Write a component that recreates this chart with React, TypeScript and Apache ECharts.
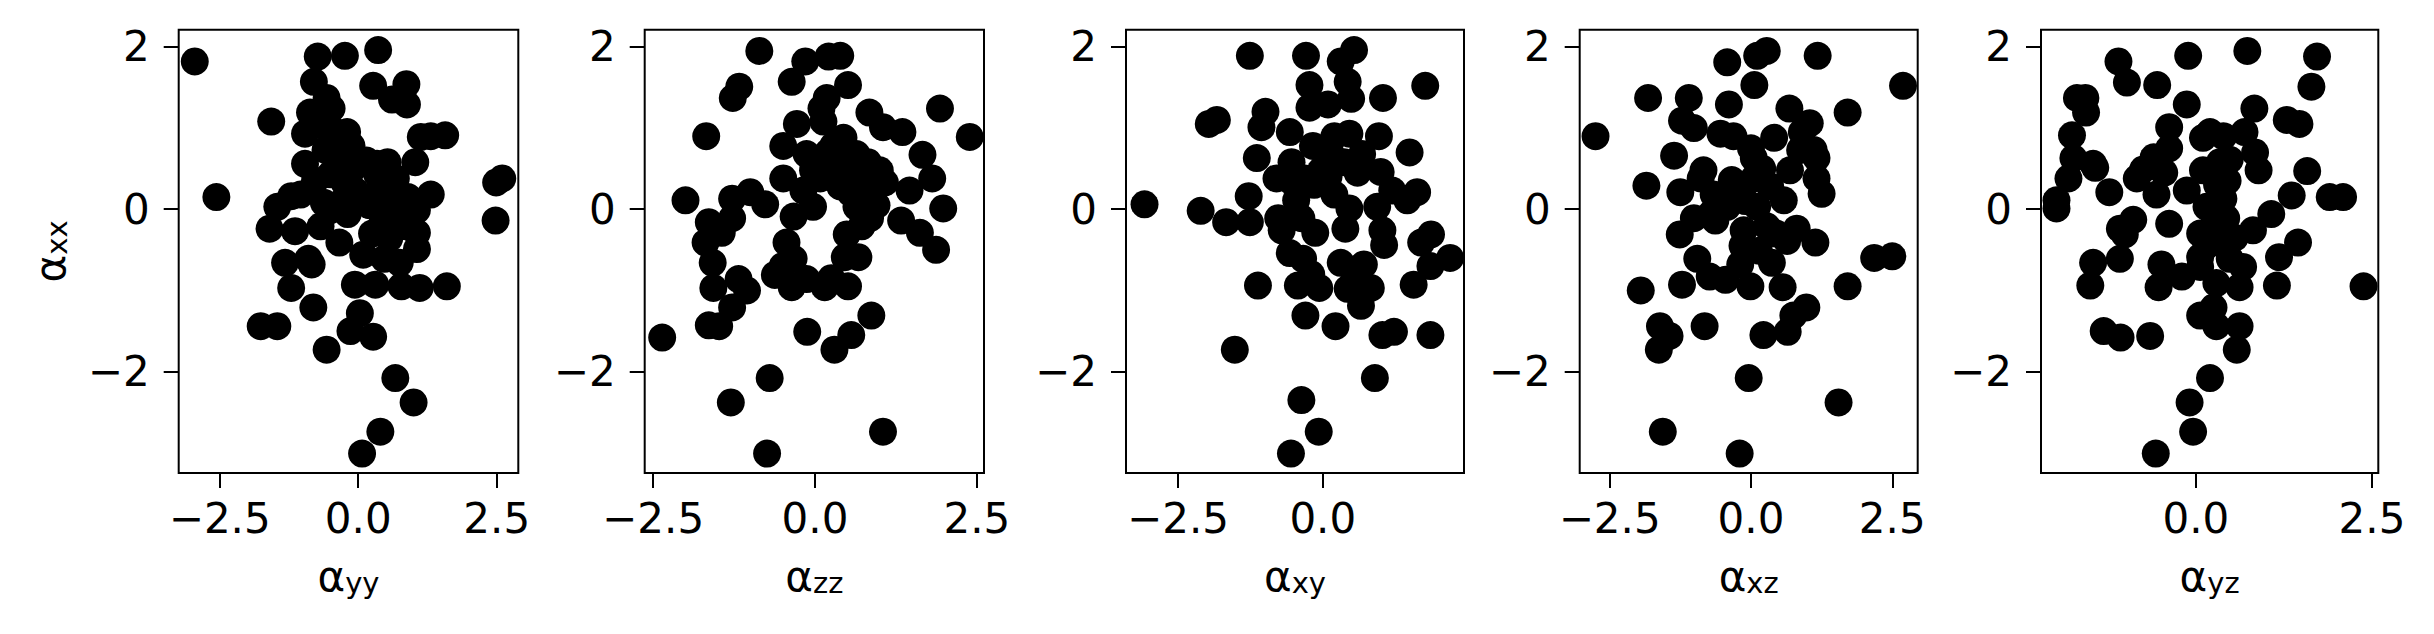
import React, { useEffect, useRef } from "react";
import * as echarts from "echarts";

// ---------- data ----------
const yTickValues = [-2, 0, 2];
const xTickValues = [-2.5, 0, 2.5];
const panelSubscripts = ["yy", "zz", "xy", "xz", "yz"];
const yAxisSubscript = "xx";

// [α_other, α_xx] pairs per panel
const alphaYY: number[][] = [
  [-2.95, 1.82], [-2.56, 0.15], [-0.73, 1.88], [-0.24, 1.89], [0.36, 1.96], [-0.8, 1.57], [0.27, 1.52],
  [0.87, 1.54], [0.61, 1.35], [0.88, 1.29], [-0.57, 1.37], [-0.48, 1.24], [-0.87, 1.19], [-1.57, 1.08],
  [-0.96, 0.93], [-0.2, 0.95], [-0.12, 0.78], [1.13, 0.89], [1.31, 0.9], [1.57, 0.91], [-0.96, 0.56],
  [0.53, 0.58], [0.34, 0.56], [1.03, 0.58], [2.49, 0.33], [2.6, 0.38], [2.48, -0.14], [-1.04, 0.18],
  [-1.21, 0.16], [-1.46, 0.03], [-1.6, -0.24], [-1.14, -0.27], [-0.68, -0.21], [-0.34, -0.41], [1.31, 0.18],
  [1.06, -0.01], [1.06, -0.29], [1.06, -0.49], [0.5, -0.14], [0.09, -0.56], [0.47, -0.61], [-1.32, -0.66],
  [-0.84, -0.68], [-0.9, -0.61], [-1.21, -0.97], [-0.06, -0.93], [0.31, -0.93], [0.78, -0.95], [1.11, -0.97],
  [1.6, -0.95], [-0.81, -1.21], [0.03, -1.28], [-1.76, -1.44], [-1.46, -1.44], [-0.14, -1.5], [0.27, -1.57],
  [-0.57, -1.73], [0.67, -2.08], [1.0, -2.38], [0.4, -2.74], [0.07, -3.01], [-0.5, 0.43], [-0.25, 0.33],
  [-0.31, 0.08], [-0.19, -0.06], [-0.5, -0.01], [-0.06, 0.23], [0.37, 0.23], [0.56, 0.16], [0.34, 0.43],
  [0.68, 0.38], [0.62, -0.01], [0.56, -0.36], [-0.59, 0.73], [-0.37, 0.61], [0.87, -0.21], [0.75, -0.66],
  [-0.72, 1.13], [-0.78, 0.35], [-0.62, 0.08], [-0.1, 0.5], [0.2, 0.05], [0.15, 0.6], [-0.4, 0.95],
  [0.42, -0.05], [0.25, -0.3], [-0.55, 1.0], [0.9, 0.15],
];

const alphaZZ: number[][] = [
  [-2.36, -1.58], [-2.0, 0.11], [-1.68, 0.9], [-1.27, 1.37], [-1.17, 1.51], [-0.86, 1.95], [-0.36, 1.57],
  [-0.15, 1.82], [0.21, 1.88], [0.39, 1.89], [0.51, 1.53], [0.18, 1.37], [0.1, 1.24], [-0.28, 1.05],
  [0.84, 1.19], [1.05, 1.01], [1.35, 0.95], [1.93, 1.24], [2.39, 0.89], [1.66, 0.67], [1.81, 0.38],
  [1.98, 0.01], [1.46, 0.23], [1.33, -0.14], [1.62, -0.29], [1.87, -0.5], [-0.49, 0.78], [-0.49, 0.38],
  [-1.28, 0.13], [-1.0, 0.21], [-0.77, 0.06], [-1.28, -0.11], [-1.64, -0.16], [-1.44, -0.29], [-1.69, -0.41],
  [-1.58, -0.66], [-1.57, -0.97], [-1.18, -0.86], [-1.05, -1.0], [-1.28, -1.21], [-1.64, -1.43], [-1.48, -1.44],
  [-0.44, -0.41], [-0.33, -0.09], [-0.03, 0.03], [-0.62, -0.81], [-0.36, -0.96], [-0.13, -0.86], [-0.33, -0.61],
  [0.15, -0.96], [0.51, -0.95], [0.46, -0.59], [0.67, -0.59], [0.49, -0.31], [0.72, -0.21], [0.85, -0.11],
  [0.87, -1.31], [0.56, -1.55], [0.3, -1.73], [-0.12, -1.51], [-0.7, -2.08], [-1.3, -2.38], [-0.74, -3.01],
  [1.05, -2.74], [-0.13, 0.68], [0.18, 0.58], [0.44, 0.88], [0.64, 0.68], [0.82, 0.58], [0.39, 0.28],
  [0.69, 0.43], [1.08, 0.33], [-0.18, 0.23], [0.08, 0.38], [0.64, 0.03], [0.85, 0.23], [0.13, 1.08],
  [-0.03, 0.48], [0.28, 0.78], [1.0, 0.48], [0.3, 0.45], [0.55, 0.2], [0.75, -0.05], [0.2, 0.7],
  [0.95, 0.05], [0.5, 0.6], [-0.5, -0.7], [0.25, -0.85],
];

const alphaXY: number[][] = [
  [-3.08, 0.06], [-2.11, -0.02], [-1.97, 1.05], [-1.83, 1.1], [-1.67, -0.16], [-1.26, 1.89], [-1.52, -1.73],
  [-1.12, -0.94], [-1.14, 0.63], [-0.99, 1.2], [-1.06, 1.01], [-1.28, 0.16], [-1.26, -0.16], [-0.57, 0.95],
  [-0.29, 1.89], [-0.23, 1.53], [-0.23, 1.25], [0.09, 1.29], [0.31, 1.82], [0.54, 1.96], [0.43, 1.57],
  [0.49, 1.36], [1.04, 1.37], [1.77, 1.52], [1.5, 0.7], [0.97, 0.9], [1.63, 0.21], [1.46, 0.11],
  [0.94, 0.03], [1.03, -0.26], [1.06, -0.44], [1.87, -0.31], [1.7, -0.41], [2.2, -0.6], [1.86, -0.7],
  [1.57, -0.93], [1.86, -1.55], [1.23, -1.51], [1.03, -1.55], [0.9, -2.08], [0.83, -0.97], [0.66, -1.19],
  [0.43, -0.98], [0.71, -0.68], [0.31, -0.66], [0.22, -1.44], [-0.3, -1.31], [-0.06, -0.97], [-0.43, -0.94],
  [-0.34, -0.61], [-0.57, -0.54], [-0.71, -0.26], [-0.77, -0.11], [-0.13, -0.29], [0.39, -0.24], [0.46, 0.01],
  [0.2, 0.18], [-0.37, -0.11], [-0.46, 0.11], [-0.8, 0.38], [-0.54, 0.58], [-0.17, 0.78], [0.2, 0.9],
  [0.46, 0.93], [0.37, 0.58], [0.68, 0.68], [1.0, 0.46], [-0.03, 0.48], [-0.31, 0.38], [-0.37, -2.35],
  [-0.07, -2.74], [-0.55, -3.01], [0.14, 0.68], [1.2, 0.23], [-0.15, 0.3], [0.1, 0.4], [-0.55, 0.35],
  [0.55, -0.85], [-0.2, -0.8], [0.6, 0.45],
];

const alphaXZ: number[][] = [
  [-2.75, 0.9], [-1.85, 0.29], [-1.82, 1.37], [-1.95, -1.0], [-1.61, -1.44], [-1.44, -1.56], [-1.63, -1.73],
  [-1.56, -2.74], [-1.36, 0.66], [-1.25, 0.21], [-1.26, -0.31], [-1.22, -0.93], [-1.1, 1.37], [-1.22, 1.09],
  [-1.01, 1.0], [-0.95, -0.61], [-0.82, -1.44], [-0.73, -0.83], [-0.42, 1.81], [-0.39, 1.29], [-0.54, 0.93],
  [-0.31, 0.9], [-0.45, -0.87], [-0.19, -0.68], [-0.01, -0.95], [-0.04, -2.08], [-0.2, -3.01], [0.11, 1.89],
  [0.28, 1.95], [0.06, 1.53], [1.18, 1.89], [0.68, 1.24], [1.04, 1.06], [0.41, 0.88], [1.71, 1.19],
  [2.69, 1.52], [1.11, 0.73], [1.16, 0.63], [1.16, 0.38], [1.25, 0.19], [0.69, 0.48], [0.05, 0.63],
  [-0.34, 0.36], [-0.89, 0.38], [-1.01, -0.11], [-0.63, -0.14], [-0.13, -0.26], [0.11, 0.03], [0.58, 0.11],
  [0.81, -0.24], [1.14, -0.41], [0.64, -0.39], [0.37, -0.66], [0.14, -0.51], [0.56, -0.96], [0.98, -1.21],
  [0.75, -1.31], [0.65, -1.51], [0.22, -1.55], [1.55, -2.38], [1.71, -0.95], [2.18, -0.6], [2.5, -0.58],
  [-0.66, 0.18], [-0.25, 0.23], [0.05, 0.38], [0.34, 0.28], [-0.42, 0.03], [0.28, -0.21], [-0.84, 0.48],
  [0.87, 0.73], [-0.1, 0.1], [0.2, 0.5], [-0.15, -0.45], [0.45, -0.3], [-0.7, -0.05], [0.0, 0.75],
  [0.9, 0.95],
];

const alphaYZ: number[][] = [
  [-1.98, 0.01], [-1.98, 0.11], [-1.81, 0.38], [-1.74, 0.63], [-1.76, 0.91], [-1.69, 1.37], [-1.57, 1.37],
  [-1.56, 1.19], [-1.46, 0.56], [-1.43, 0.51], [-1.23, 0.21], [-1.1, 1.82], [-0.98, 1.56], [-0.55, 1.53],
  [-0.11, 1.89], [0.73, 1.95], [1.72, 1.88], [1.64, 1.51], [-0.13, 1.29], [-0.38, 1.01], [-0.38, 0.75],
  [-0.6, 0.64], [-0.75, 0.49], [-0.84, 0.38], [0.83, 1.24], [1.29, 1.1], [1.47, 1.05], [1.58, 0.47],
  [1.9, 0.15], [2.09, 0.15], [2.38, -0.95], [1.45, -0.41], [1.18, -0.59], [1.15, -0.94], [1.36, 0.17],
  [1.07, -0.06], [0.81, -0.26], [0.89, 0.48], [0.84, 0.7], [0.69, 0.95], [0.39, 0.9], [0.1, 0.88],
  [0.1, 0.48], [0.34, 0.58], [0.48, 0.61], [-0.13, 0.23], [-0.38, -0.18], [-0.56, 0.18], [-0.89, -0.13],
  [-1.08, -0.24], [-1.01, -0.31], [-1.08, -0.61], [-1.46, -0.66], [-1.5, -0.94], [-1.31, -1.5], [-1.07, -1.58],
  [-0.65, -1.56], [-0.49, -0.68], [-0.53, -0.96], [-0.2, -0.83], [0.06, -0.59], [0.06, -0.3], [0.15, 0.03],
  [0.39, 0.13], [0.43, -0.11], [0.34, -0.41], [0.48, -0.61], [0.67, -0.71], [0.62, -0.96], [0.29, -0.91],
  [0.06, -1.31], [0.25, -1.21], [0.29, -1.44], [0.62, -1.44], [0.58, -1.73], [0.2, -2.08], [-0.09, -2.38],
  [-0.04, -2.74], [-0.57, -3.01], [0.06, -0.71], [0.25, -0.2], [0.3, 0.3], [0.15, -0.45], [0.45, 0.35],
  [-0.45, 0.45], [0.55, -0.35], [0.2, 0.95],
];

const panelData = [alphaYY, alphaZZ, alphaXY, alphaXZ, alphaYZ];
const xRanges = [
  [-3.24, 2.89],
  [-2.63, 2.61],
  [-3.4, 2.44],
  [-3.03, 2.95],
  [-2.2, 2.59],
];
const yRange = [-3.25, 2.21];

// ---------- layout ----------
const gridLefts = [178.7, 644.7, 1126, 1579.7, 2041];
const gridWidths = [339.6, 339.3, 338, 338, 337.3];
const gridTop = 29.8;
const gridHeight = 443.3;
const FONT = "DejaVu Sans";
const FS = 42;

const minus = (s: string) => s.replace("-", "\u2212");

const nameRich = {
  a: { fontSize: FS, lineHeight: FS, fontFamily: FONT, color: "#000" },
  s: { fontSize: 29, lineHeight: 25, fontFamily: FONT, color: "#000", verticalAlign: "bottom" },
};

function buildOption() {
  const grid: any[] = [];
  const xAxis: any[] = [];
  const yAxis: any[] = [];
  const series: any[] = [];
  panelData.forEach((data, i) => {
    const [xmin, xmax] = xRanges[i];
    const ticks = xTickValues.filter((v) => v >= xmin && v <= xmax);
    grid.push({
      left: gridLefts[i],
      top: gridTop,
      width: gridWidths[i],
      height: gridHeight,
      show: true,
      borderColor: "#000",
      borderWidth: 2,
      backgroundColor: "transparent",
      containLabel: false,
    });
    xAxis.push({
      gridIndex: i,
      type: "value",
      min: xmin,
      max: xmax,
      axisLine: { show: false, onZero: false },
      splitLine: { show: false },
      axisTick: {
        show: true,
        inside: false,
        length: 15,
        lineStyle: { color: "#000", width: 2 },
        customValues: ticks,
      },
      axisLabel: {
        customValues: ticks,
        formatter: (v: number) => minus(v.toFixed(1)),
        fontSize: FS,
        fontFamily: FONT,
        color: "#000",
        margin: 24,
      },
      name: `{a|α}{s|${panelSubscripts[i]}}`,
      nameLocation: "middle",
      nameGap: 82,
      nameTextStyle: { rich: nameRich, fontFamily: FONT, fontSize: FS, color: "#000" },
    });
    yAxis.push({
      gridIndex: i,
      type: "value",
      min: yRange[0],
      max: yRange[1],
      axisLine: { show: false, onZero: false },
      splitLine: { show: false },
      axisTick: {
        show: true,
        inside: false,
        length: 15,
        lineStyle: { color: "#000", width: 2 },
        customValues: yTickValues,
      },
      axisLabel: {
        customValues: yTickValues,
        formatter: (v: number) => minus(String(v)),
        fontSize: FS,
        fontFamily: FONT,
        color: "#000",
        margin: 29,
      },
      ...(i === 0
        ? {
            name: `{a|α}{s|${yAxisSubscript}}`,
            nameLocation: "middle",
            nameGap: 107,
            nameRotate: 90,
            nameTextStyle: { rich: nameRich, fontFamily: FONT, fontSize: FS, color: "#000" },
          }
        : {}),
    });
    series.push({
      type: "scatter",
      xAxisIndex: i,
      yAxisIndex: i,
      data,
      symbol: "circle",
      symbolSize: 28,
      itemStyle: { color: "#000", opacity: 1 },
      silent: true,
      clip: true,
    });
  });
  return {
    animation: false,
    backgroundColor: "#fff",
    grid,
    xAxis,
    yAxis,
    series,
  };
}

export default function App() {
  const ref = useRef<HTMLDivElement>(null);
  useEffect(() => {
    document.body.style.margin = "0";
    const chart = echarts.init(ref.current!, null, { renderer: "svg" });
    chart.setOption(buildOption() as any);
    return () => chart.dispose();
  }, []);
  return (
    <div
      ref={ref}
      style={{ position: "absolute", left: 0, top: 0, width: 2434, height: 634, background: "#fff" }}
    />
  );
}
